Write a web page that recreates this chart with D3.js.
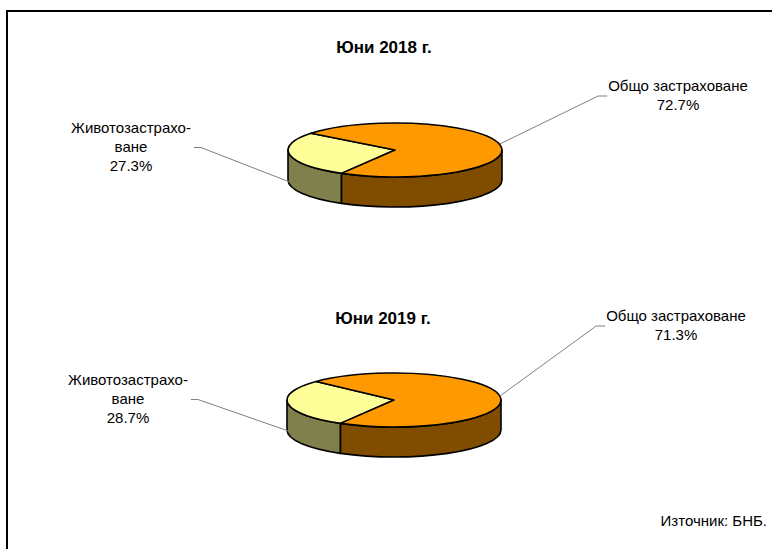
<!DOCTYPE html>
<html lang="bg">
<head>
<meta charset="UTF-8">
<title>Застраховане</title>
<script src="https://d3js.org/d3.v7.min.js"></script>
<style>
  body { margin: 0; background: #fff; font-family: "Liberation Sans", Arial, sans-serif; }
  svg { display: block; }
  .title { font-size: 17px; font-weight: bold; text-anchor: middle; }
  .lbl { font-size: 15px; text-anchor: middle; }
</style>
</head>
<body>
<svg id="chart" width="772" height="549"></svg>
<script>
// data
const periods = ['Юни 2018 г.', 'Юни 2019 г.'];
const categories = ['Животозастраховане', 'Общо застраховане'];
const labelLines = [['Животозастрахо-', 'ване'], ['Общо застраховане']];
const lifeShare = [27.3, 28.7];
const generalShare = [72.7, 71.3];
const topColors = ['#FFFF99', '#FF9900'];
const sideColors = ['#80804C', '#804C00'];

// layout of each pie (center, radii, label anchors)
const layout = [
  {cx: 395, cy: 150, titleY: 53, left: [131, 133], right: [678, 91], rightDrop: -1},
  {cx: 394, cy: 400, titleY: 324, left: [128, 385], right: [676, 321], rightDrop: 0}
];
const rx = 107, ry = 27, depth = 30;
const startDeg = 210; // rotation of first slice (d3 angle, clockwise from 12 o'clock)

const svg = d3.select('#chart');

// frame
svg.append('path')
  .attr('d', 'M7,549 V11 H772')
  .attr('fill', 'none').attr('stroke', '#000').attr('stroke-width', 2);

const pie = d3.pie().sort(null).value(d => d.v)
  .startAngle(startDeg * Math.PI / 180)
  .endAngle((startDeg + 360) * Math.PI / 180);

// d3 angle -> screen parametric angle (0 = east, clockwise)
const toT = a => a - Math.PI / 2;

periods.forEach((period, k) => {
  const L = layout[k];
  const g = svg.append('g');
  const pt = (t, dy = 0) => [L.cx + rx * Math.cos(t), L.cy + ry * Math.sin(t) + dy];

  const data = [
    {name: categories[0], v: lifeShare[k], i: 0},
    {name: categories[1], v: generalShare[k], i: 1}
  ];
  const arcs = pie(data);

  // side faces (only front half, t in [0, PI])
  arcs.forEach(a => {
    let t0 = toT(a.startAngle), t1 = toT(a.endAngle);
    const segs = [];
    for (let off = -4 * Math.PI; off <= 4 * Math.PI; off += 2 * Math.PI) {
      const s = Math.max(t0 + off, 0), e = Math.min(t1 + off, Math.PI);
      if (e > s) segs.push([s, e]);
    }
    segs.forEach(([s, e]) => {
      const p0 = pt(s), p1 = pt(e), q1 = pt(e, depth), q0 = pt(s, depth);
      const d = `M${p0}A${rx},${ry} 0 0 1 ${p1}L${q1}A${rx},${ry} 0 0 0 ${q0}Z`;
      g.append('path').attr('d', d)
        .attr('fill', sideColors[a.data.i])
        .attr('stroke', '#000').attr('stroke-width', 1.6)
        .attr('stroke-linejoin', 'round');
    });
  });

  // top faces
  arcs.forEach(a => {
    const t0 = toT(a.startAngle), t1 = toT(a.endAngle);
    const large = (t1 - t0) > Math.PI ? 1 : 0;
    const d = `M${L.cx},${L.cy}L${pt(t0)}A${rx},${ry} 0 ${large} 1 ${pt(t1)}Z`;
    g.append('path').attr('d', d)
      .attr('fill', topColors[a.data.i])
      .attr('stroke', '#000').attr('stroke-width', 1.6)
      .attr('stroke-linejoin', 'round');
  });

  // title
  svg.append('text').attr('class', 'title')
    .attr('x', L.cx - 11).attr('y', L.titleY).text(period);

  // labels + leaders
  arcs.forEach(a => {
    const isLeft = a.data.i === 0;
    const pos = isLeft ? L.left : L.right;
    const lines = labelLines[a.data.i].concat([a.data.v.toFixed(1) + '%']);
    const txt = svg.append('text').attr('class', 'lbl')
      .attr('x', pos[0]).attr('y', pos[1]);
    txt.selectAll('tspan').data(lines).join('tspan')
      .attr('x', pos[0]).attr('dy', (d, i) => i === 0 ? 0 : 19)
      .text(d => d);
    const bb = txt.node().getBBox();
    const mid = (toT(a.startAngle) + toT(a.endAngle)) / 2;
    const end = pt(mid, isLeft ? depth - 3 : L.rightDrop);
    let pts;
    if (isLeft) {
      const y = bb.y + bb.height / 2 + 1;
      const x = bb.x + bb.width + 3;
      pts = [[x, y], [x + 7, y], end];
    } else {
      const y = bb.y + bb.height / 2 + 1;
      const x = bb.x - 1;
      pts = [[x, y], [x - 9, y], end];
    }
    svg.append('path').attr('d', d3.line()(pts))
      .attr('fill', 'none').attr('stroke', '#808080').attr('stroke-width', 1);
  });
});

// source note
svg.append('text').attr('x', 767).attr('y', 526)
  .attr('text-anchor', 'end').style('font-size', '15px')
  .text('Източник: БНБ.');
</script>
</body>
</html>
